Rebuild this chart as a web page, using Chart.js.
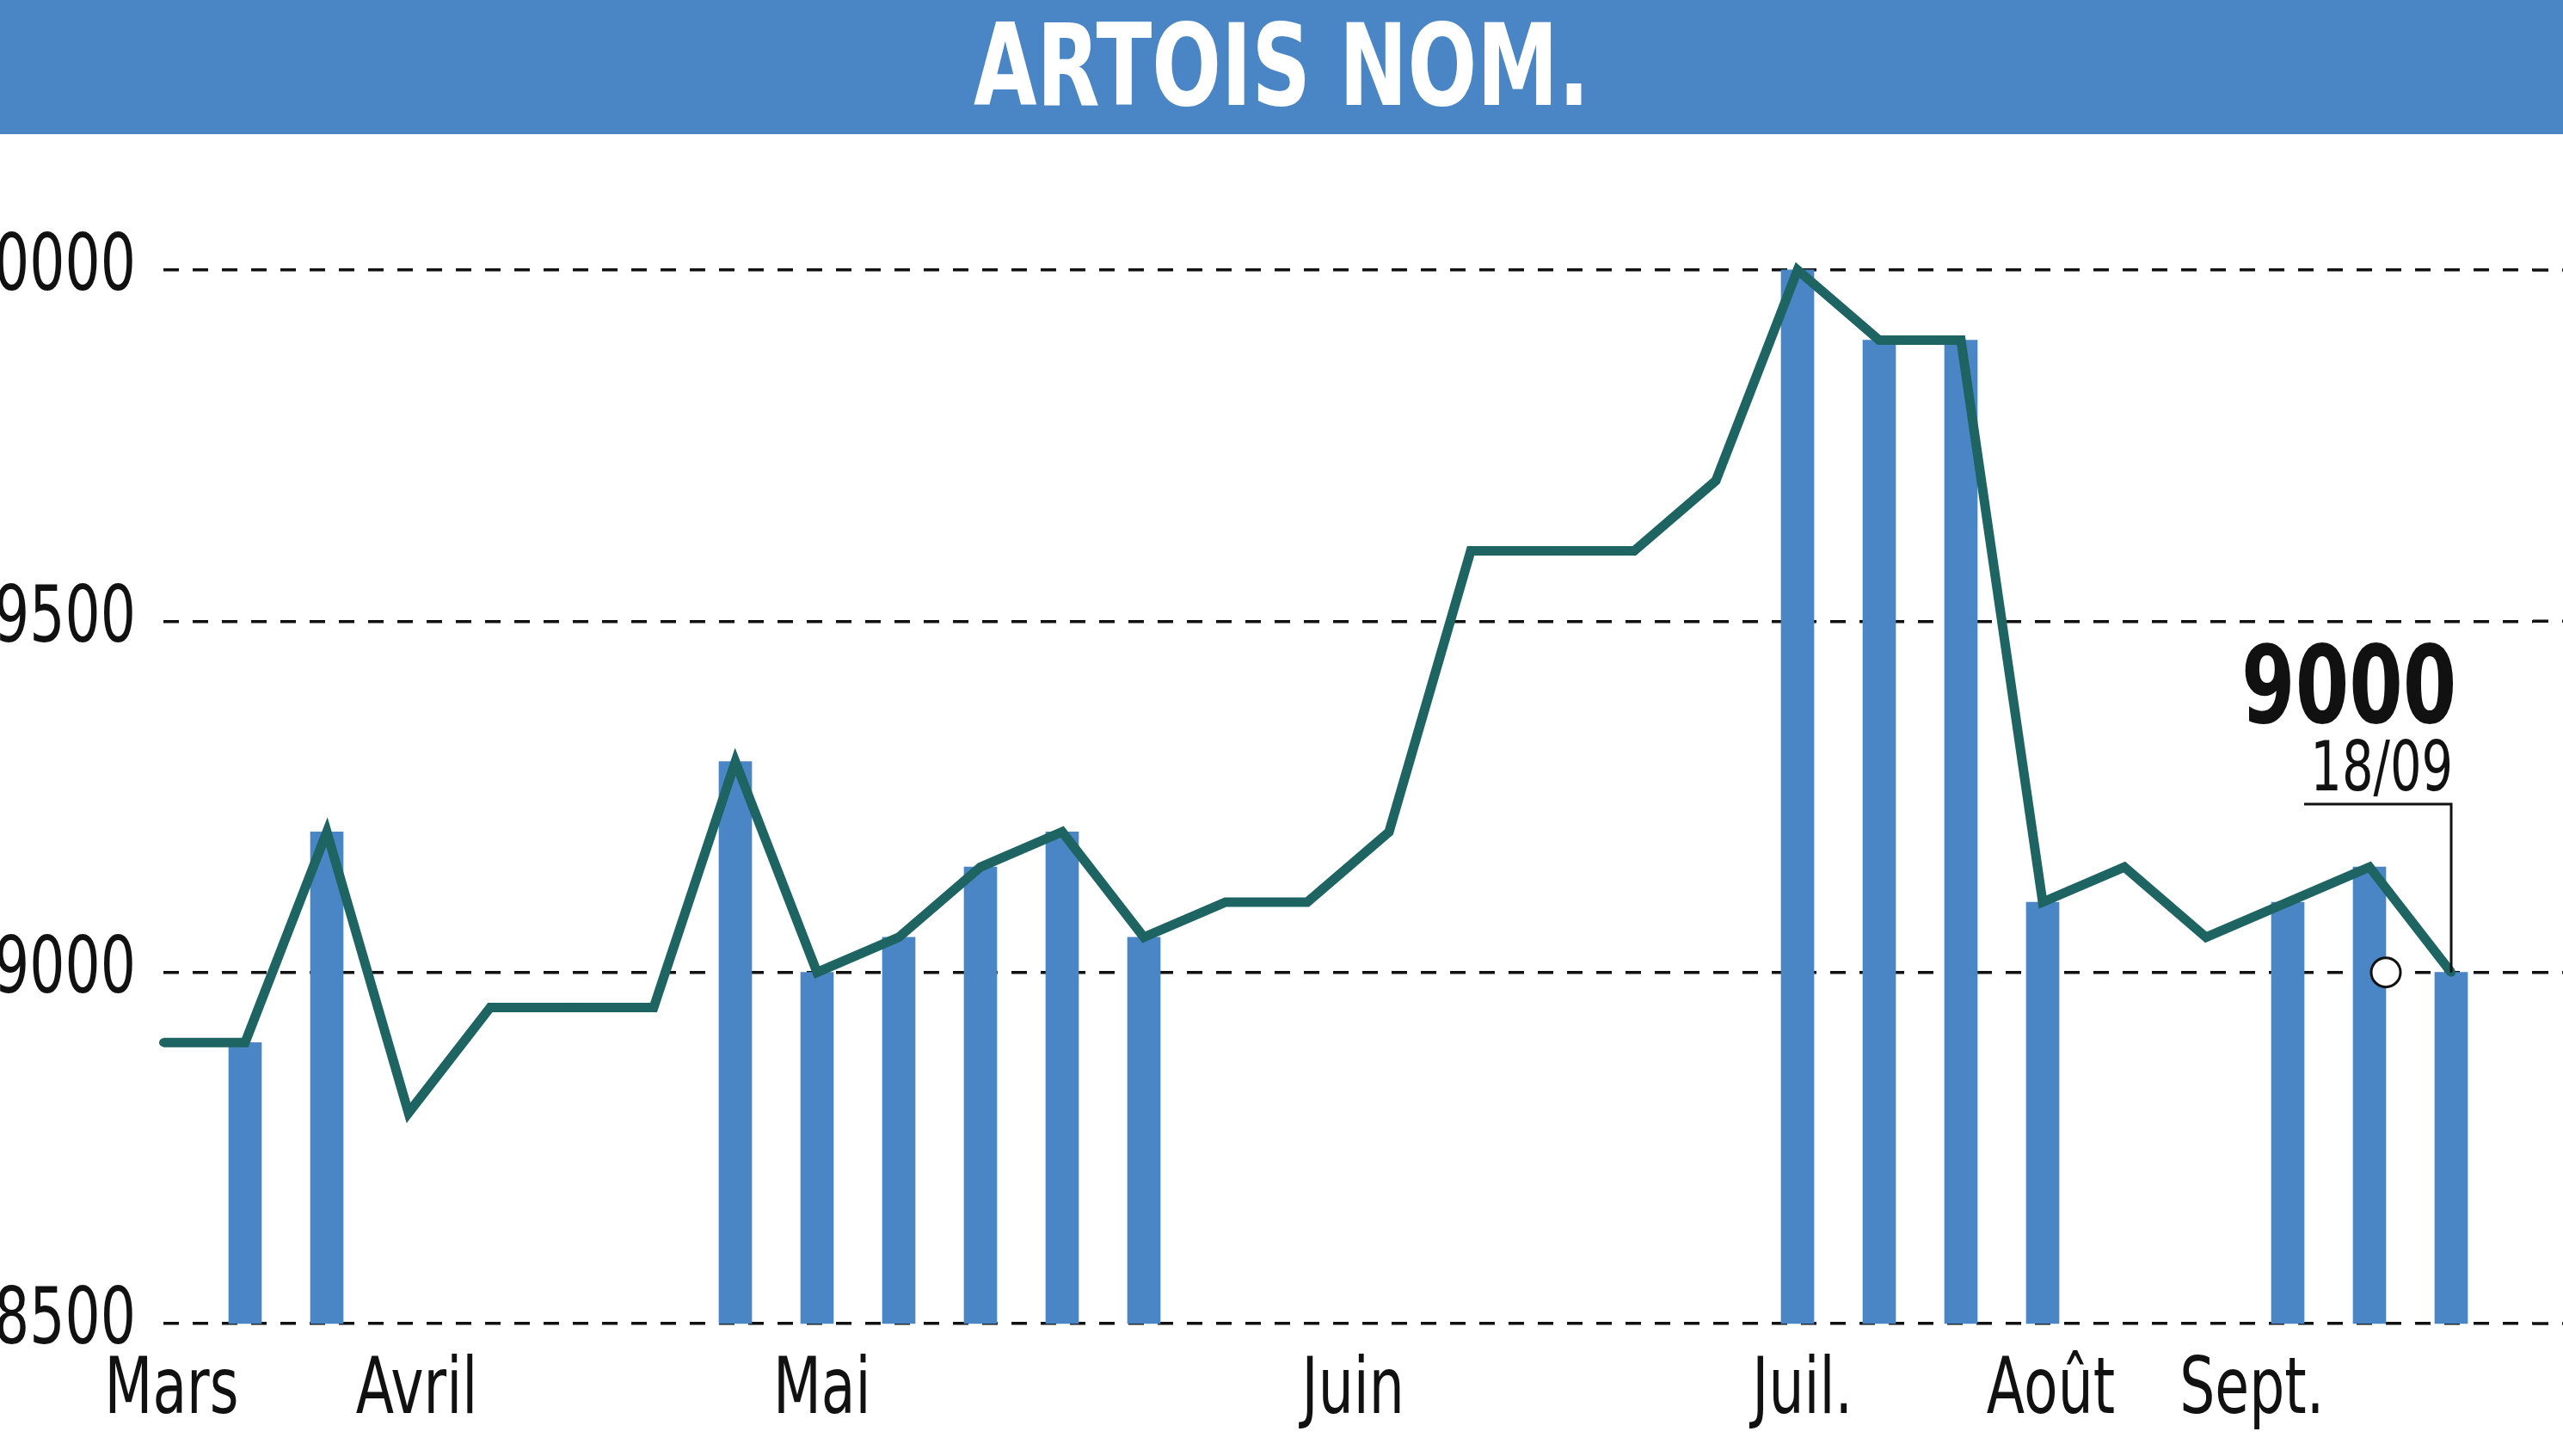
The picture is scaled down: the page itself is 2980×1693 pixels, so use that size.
<!DOCTYPE html>
<html><head><meta charset="utf-8">
<script src="https://cdn.jsdelivr.net/npm/chart.js@4/dist/chart.umd.min.js"></script>
<style>
html,body{margin:0;padding:0;background:#fff;overflow:hidden}
canvas{position:absolute;left:0;top:0}
</style></head><body>
<canvas id="c" width="2980" height="1693"></canvas>
<script>
const FONT = '"DejaVu Sans",sans-serif';
const weeks = Array.from({length:30},(_,i)=>String(i));
const prices = [8900,8900,9200,8800,8950,8950,8950,9300,9000,9050,9150,9200,9050,9100,9100,9200,9600,9600,9600,9700,10000,9900,9900,9100,9150,9050,9100,9150,9000];
const barWeeks = [1,2,7,8,9,10,11,12,20,21,22,23,26,27,28];
const barTops = [8900,9200,9300,9000,9050,9150,9200,9050,10000,9900,9900,9100,9100,9150,9000];
const yTicks = [8500,9000,9500,10000];
const months = ['Mars','Avril','Mai','Juin','Juil.','Août','Sept.'];
const monthPos = [0.1,3.1,8.06,14.56,20.06,23.1,25.56];
const title = 'ARTOIS NOM.';
const lastValue = '9000', lastDate = '18/09';

const bars = weeks.map(()=>null);
barWeeks.forEach((w,i)=>bars[w]=[8500,barTops[i]]);

// condensed text: squeeze horizontally
function txt(ctx,s,x,y,font,align){
  ctx.save();ctx.translate(x,y);ctx.scale(0.72,1);
  ctx.font=font;ctx.textAlign=align||'center';ctx.fillText(s,0,0);ctx.restore();
}

const overlay = {
  id:'overlay',
  beforeDraw(ch){
    const {ctx}=ch;
    ctx.save();ctx.fillStyle='#4a86c5';ctx.fillRect(0,0,2980,156);
    ctx.fillStyle='#fff';ctx.textBaseline='middle';
    txt(ctx,title,1490,88,'bold 132px '+FONT);
    ctx.restore();
  },
  beforeDatasetsDraw(ch){
    // extend dashed grid to the right edge
    const {ctx,chartArea,scales:{y}} = ch;
    ctx.save();ctx.strokeStyle='#111';ctx.lineWidth=3.5;ctx.setLineDash([18,16]);
    yTicks.forEach(v=>{const py=y.getPixelForValue(v);ctx.beginPath();ctx.moveTo(chartArea.right,py);ctx.lineTo(2980,py);ctx.stroke();});
    ctx.restore();
  },
  afterDraw(ch){
    const {ctx,scales:{x,y}} = ch;
    ctx.save();
    ctx.fillStyle='#111';ctx.textBaseline='middle';
    yTicks.forEach(v=>txt(ctx,String(v),158,y.getPixelForValue(v),'90px '+FONT,'right'));
    months.forEach((m,i)=>txt(ctx,m,x.getPixelForValue(monthPos[i]),1620,'90px '+FONT));
    const px=x.getPixelForValue(27.2), py=y.getPixelForValue(9000);
    ctx.beginPath();ctx.arc(px,py,17,0,Math.PI*2);ctx.fillStyle='#fff';ctx.fill();
    ctx.lineWidth=3;ctx.strokeStyle='#111';ctx.stroke();
    const ex=x.getPixelForValue(28);
    ctx.beginPath();ctx.moveTo(x.getPixelForValue(26.2),935);ctx.lineTo(ex,935);ctx.lineTo(ex,py);ctx.stroke();
    ctx.fillStyle='#111';
    txt(ctx,lastValue,x.getPixelForValue(26.75),808,'bold 125px '+FONT);
    txt(ctx,lastDate,x.getPixelForValue(27.15),898,'80px '+FONT);
    ctx.restore();
  }
};

new Chart(document.getElementById('c'),{
  data:{labels:weeks,datasets:[
    {type:'line',data:prices,borderColor:'#1d6462',borderWidth:11,pointRadius:5,pointBackgroundColor:'#1d6462',pointBorderWidth:0,tension:0,order:1,clip:false},
    {type:'bar',data:bars,backgroundColor:'#4a86c5',barThickness:38,order:2,clip:false}
  ]},
  options:{
    responsive:false,animation:false,
    layout:{padding:{top:171,bottom:154,right:35,left:0}},
    plugins:{legend:{display:false},tooltip:{enabled:false}},
    scales:{
      x:{display:false,offset:false},
      y:{min:8500,max:10175,
        afterBuildTicks(s){s.ticks=yTicks.map(v=>({value:v}));},
        afterFit(s){s.width=190;},
        border:{display:false,dash:[18,16]},
        grid:{color:'#111',lineWidth:3.5,drawTicks:false},
        ticks:{display:false}
      }
    }
  },
  plugins:[overlay]
});
</script></body></html>
